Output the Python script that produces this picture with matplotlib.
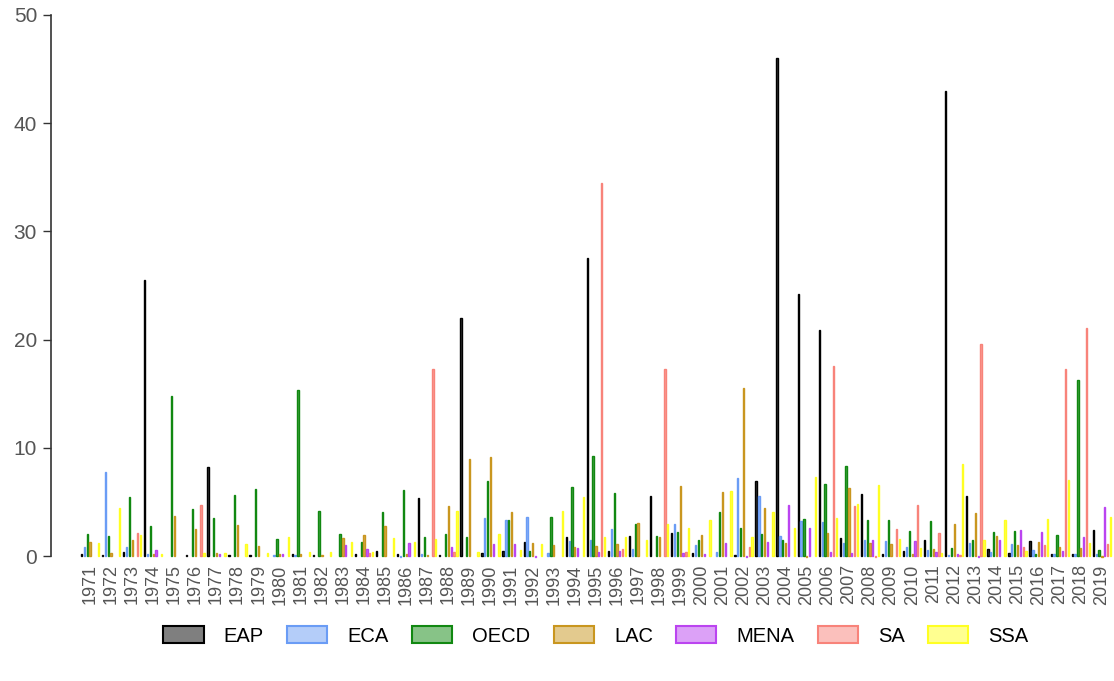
import matplotlib.pyplot as plt
import numpy as np
from matplotlib.patches import Patch
from matplotlib.colors import to_rgba

plt.rcParams['font.family'] = ['Liberation Sans', 'DejaVu Sans']

nan = np.nan
years = list(range(1971, 2020))

eap = [0.15, 0.1, 0.37, 25.5, nan, 0.1, 8.2, 0.1, 0.1, nan,
       0.15, 0.1, nan, 0.2, 0.43, 0.2, 5.33, 0.1, 22.0, 0.25,
       0.5, 1.3, nan, 1.72, 27.5, 0.43, 1.82, 5.55, 2.13, 0.31,
       nan, 0.1, 6.93, 46.0, 24.2, 20.9, 1.63, 5.73, 0.2, 0.46,
       1.48, 43.0, 5.55, 0.65, 0.28, 1.38, 0.15, 0.15, 2.43]
eca = [0.86, 7.76, 0.83, 0.15, nan, nan, nan, nan, nan, 0.1,
       0.1, nan, nan, nan, nan, -0.1, 0.15, nan, nan, 3.54,
       3.33, 3.6, 0.25, 1.38, 1.45, 2.53, 0.65, nan, 2.96, 1.02,
       0.4, 7.24, 5.5, 1.85, 3.2, 3.17, 1.2, 1.48, 1.38, 0.86,
       0.55, 0.1, 1.17, 0.4, 1.1, 0.59, 0.18, 0.2, 0.2]
oecd = [2.0, 1.85, 5.45, 2.77, 14.8, 4.34, 3.54, 5.6, 6.2, 1.6,
        15.3, 4.16, 2.06, 1.33, 4.1, 6.07, 1.8, 2.03, 1.72, 6.9,
        3.33, 0.5, 3.63, 6.38, 9.24, 5.82, 2.93, 1.88, 2.22, 1.45,
        4.04, 2.56, 2.03, 1.45, 3.39, 6.62, 8.32, 3.36, 3.36, 2.28,
        3.2, 0.77, 1.45, 2.19, 2.28, 0.22, 1.97, 16.3, 0.55]
lac = [1.3, 0.25, 1.48, 0.2, 3.7, 2.5, 0.25, 2.9, 0.92, 0.2,
       0.2, 0.1, 1.7, 1.94, 2.74, 0.2, 0.1, 4.65, 9.0, 9.12,
       4.07, 1.2, 1.0, 0.86, 0.9, 1.08, 3.08, 1.76, 6.44, 1.97,
       5.88, 15.5, 4.47, 1.23, -0.06, 2.13, 6.32, 1.17, 1.1, 0.18,
       0.62, 2.96, 4.0, 1.85, 1.02, 1.3, 0.86, 0.7, -0.06]
mena = [nan, nan, nan, 0.52, nan, nan, 0.18, nan, nan, 0.2,
        nan, nan, 1.05, 0.65, nan, 1.17, nan, 0.83, nan, 1.08,
        1.14, -0.1, nan, 0.7, 0.4, 0.5, nan, nan, 0.25, 0.2,
        1.17, -0.12, 1.3, 4.74, 2.62, 0.37, 0.3, 1.51, nan, 1.38,
        0.4, 0.15, -0.06, 1.48, 2.37, 2.25, 0.5, 1.72, 4.5]
sa = [nan, nan, 2.16, nan, nan, 4.68, nan, nan, nan, nan,
      nan, nan, nan, 0.25, nan, nan, 17.3, 0.4, nan, nan,
      nan, nan, nan, nan, 34.5, 0.65, nan, 17.3, 0.4, nan,
      nan, 0.83, nan, nan, nan, 17.6, 4.59, -0.1, 2.53, 4.68,
      2.13, 0.1, 19.6, nan, 0.86, 1.05, 17.3, 21.1, 1.14]
ssa = [1.17, 4.47, 1.94, 0.2, nan, 0.3, 0.25, 1.08, 0.25, 1.72,
       0.35, 0.35, 1.3, 0.35, 1.63, 1.3, 1.55, 4.19, 0.33, 2.03,
       0.52, 1.1, 4.13, 5.42, 1.72, 1.8, 1.48, 2.99, 2.62, 3.33,
       5.98, 1.72, 4.04, 2.62, 7.27, 3.51, 4.8, 6.53, 1.57, 0.7,
       0.25, 8.53, 1.45, 3.3, 0.46, 3.45, 7.02, 1.23, 3.63]

names = ['EAP', 'ECA', 'OECD', 'LAC', 'MENA', 'SA', 'SSA']
series = [eap, eca, oecd, lac, mena, sa, ssa]
colors = ['#000000', '#6a9cf5', '#118811', '#c9961f', '#bb44f0', '#f8837a', '#ffff22']

fig = plt.figure(figsize=(11.14, 6.81), dpi=100)
ax = fig.add_axes([51 / 1114, 125 / 681, 1061 / 1114, 541 / 681])

x = np.arange(len(years))
step = 0.135
# barras finas: casi solo se ve el borde
for j, (vals, c) in enumerate(zip(series, colors)):
    ax.bar(x + (j - 3) * step, vals, width=0.06, facecolor=to_rgba(c, 0.8),
           edgecolor=c, linewidth=1.0, clip_on=False)

ax.set_xlim(-1.85, len(years) - 0.52)
ax.set_ylim(0, 50)
for s in ['top', 'right', 'bottom']:
    ax.spines[s].set_visible(False)
ax.spines['left'].set_bounds(0, 50)
ax.spines['left'].set_color('#333333')
ax.spines['left'].set_linewidth(1.2)

ax.set_yticks(range(0, 51, 10))
ax.tick_params(axis='y', length=6, width=1, color='#333333', labelsize=15, labelcolor='#555555', pad=4)
ax.set_xticks(x)
ax.set_xticklabels([str(y) for y in years], rotation=90)
ax.tick_params(axis='x', length=0, labelsize=13, labelcolor='#555555', pad=6)

handles = [Patch(facecolor=to_rgba(c, 0.5), edgecolor=c, linewidth=1.5, label=n)
           for n, c in zip(names, colors)]
fig.legend(handles=handles, loc='center', ncol=7, frameon=False, fontsize=14.5,
           bbox_to_anchor=(0.535, 0.066), handlelength=2.0, handleheight=0.9,
           handletextpad=1.0, columnspacing=1.15)

fig.savefig('out.png', dpi=100)
